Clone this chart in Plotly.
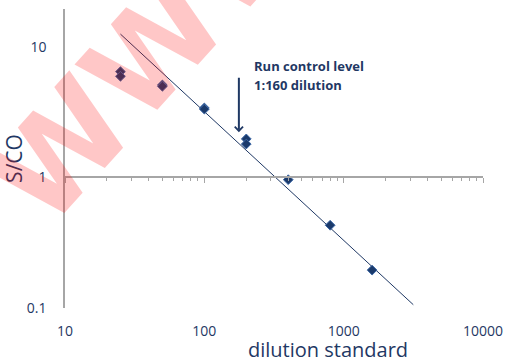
import plotly.graph_objects as go
import numpy as np

# data
dilution = [25, 25, 50, 50, 100, 100, 200, 200, 400, 800, 1600]
s_co = [6.45, 5.94, 5.1, 4.98, 3.4, 3.33, 1.97, 1.80, 0.96, 0.43, 0.195]
trend_x = [25, 3160]
trend_y = [12.5, 0.106]
arrow_x = 177
arrow_y = 2.22
x_ticks = [10, 100, 1000, 10000]
x_ticklabels = ["10", "100", "1000", "10000"]
y_ticks = [0.1, 1, 10]
y_ticklabels = ["0.1", "1", "10"]

navy = "#1F3864"
font = "Open Sans"

fig = go.Figure()
fig.add_trace(go.Scatter(x=trend_x, y=trend_y, mode="lines",
                         line=dict(color=navy, width=1), showlegend=False, hoverinfo="skip"))
fig.add_trace(go.Scatter(x=dilution, y=s_co, mode="markers",
                         marker=dict(symbol="diamond", size=7.5, color="#1B3A6B",
                                     line=dict(color="#3D68A6", width=1)),
                         showlegend=False))
# invisible trace on crossing axis
fig.add_trace(go.Scatter(x=[x_ticks[0]], y=[1], xaxis="x2", mode="markers",
                         marker=dict(opacity=0), showlegend=False, hoverinfo="skip"))

y_lo, y_hi = -1, 1.289
cross_pos = (0 - y_lo) / (y_hi - y_lo)

fig.update_layout(
    width=512, height=360,
    margin=dict(l=65, r=22, t=9, b=52),
    paper_bgcolor="white", plot_bgcolor="white",
    font=dict(family=font, color=navy),
    xaxis=dict(type="log", range=[1, 4], tickvals=x_ticks, ticktext=x_ticklabels,
               showgrid=False, zeroline=False, showline=False, ticks="",
               tickfont=dict(size=14, color=navy), ticklabelstandoff=13),
    xaxis2=dict(type="log", range=[1, 4], overlaying="x", anchor="free", position=cross_pos,
                showline=True, linecolor="#A6A6A6", linewidth=1.5, showgrid=False, zeroline=False,
                ticks="outside", ticklen=5, tickcolor="#A6A6A6", tickwidth=1,
                tickvals=x_ticks, showticklabels=False,
                minor=dict(ticks="outside", ticklen=3, tickcolor="#A6A6A6", tickwidth=1,
                           dtick="D1", showgrid=False)),
    yaxis=dict(type="log", range=[y_lo, y_hi], tickvals=y_ticks, ticktext=y_ticklabels,
               showgrid=False, zeroline=False, showline=True, linecolor="#A6A6A6", linewidth=1.5,
               ticks="", tickfont=dict(size=14, color=navy), ticklabelstandoff=14,
               title=dict(text="S/CO", font=dict(size=21, color=navy), standoff=0)),
)

# x axis title (offset to the right like the reference)
fig.add_annotation(text="dilution standard", xref="paper", yref="paper", x=0.628, y=0,
                   xanchor="center", yanchor="middle", yshift=-41, showarrow=False,
                   font=dict(size=20, color=navy, family=font))

# watermark
fig.add_annotation(text="<b>WWW</b>", xref="paper", yref="paper", x=0.215, y=0.87,
                   xanchor="center", yanchor="middle",
                   showarrow=False, textangle=-48,
                   font=dict(family="DejaVu Sans", size=126, color="rgba(255,0,0,0.22)"))

# annotation text
fig.add_annotation(text="<b>Run control level</b>", x=np.log10(arrow_x), y=np.log10(arrow_y),
                   xref="x", yref="y", xanchor="left", yanchor="middle", showarrow=False,
                   xshift=13, yshift=66, font=dict(size=13, color=navy, family=font))
fig.add_annotation(text="<b>1:160 dilution</b>", x=np.log10(arrow_x), y=np.log10(arrow_y),
                   xref="x", yref="y", xanchor="left", yanchor="middle", showarrow=False,
                   xshift=13, yshift=47, font=dict(size=13, color=navy, family=font))
# arrow
fig.add_annotation(text="", x=np.log10(arrow_x), y=np.log10(arrow_y), xref="x", yref="y",
                   showarrow=True, ax=0, ay=-56, arrowhead=4, arrowsize=0.8, arrowwidth=2,
                   arrowcolor=navy)

fig.write_html("out.html")
